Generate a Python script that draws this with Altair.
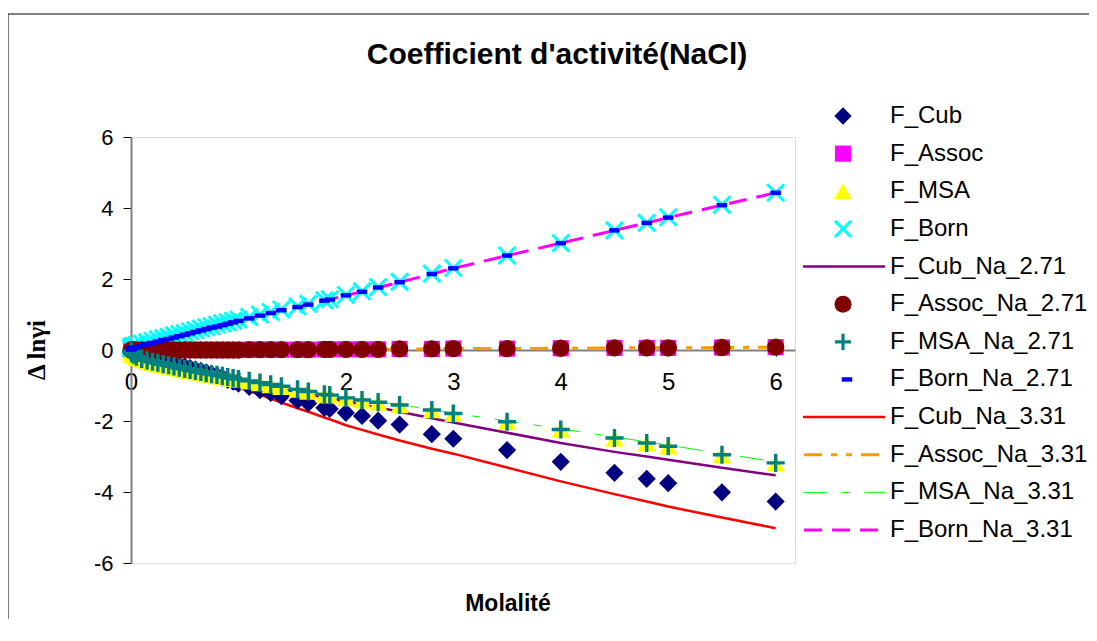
import altair as alt
import pandas as pd

# ---------------- data ----------------
mol = [0.001, 0.005, 0.01, 0.02, 0.05, 0.1, 0.15, 0.2, 0.25, 0.3, 0.35, 0.4, 0.45, 0.5,
       0.55, 0.6, 0.65, 0.7, 0.75, 0.8, 0.85, 0.9, 0.95, 1.0, 1.1, 1.2, 1.3, 1.4, 1.55,
       1.65, 1.8, 1.85, 2.0, 2.15, 2.3, 2.5, 2.8, 3.0, 3.5, 4.0, 4.5, 4.8, 5.0, 5.5, 6.0]

f_cub = [-0.03, -0.06, -0.08, -0.11, -0.17, -0.22, -0.26, -0.29, -0.32, -0.35,
         -0.38, -0.41, -0.44, -0.47, -0.51, -0.55, -0.59, -0.63, -0.68, -0.73,
         -0.78, -0.84, -0.89, -0.95, -1.04, -1.13, -1.21, -1.30, -1.42, -1.50,
         -1.63, -1.66, -1.77, -1.86, -1.99, -2.10, -2.37, -2.50, -2.82, -3.15,
         -3.46, -3.63, -3.75, -4.01, -4.27]
f_assoc = [0.0, 0.0, 0.0, 0.0, 0.0, 0.0, 0.0, 0.0, 0.0, 0.0,
           0.0, 0.0, 0.0, 0.0, 0.0, 0.0, 0.0, 0.0, 0.0, 0.0,
           0.0, 0.0, 0.0, 0.0, 0.01, 0.01, 0.01, 0.01, 0.01, 0.01,
           0.02, 0.02, 0.02, 0.02, 0.02, 0.03, 0.03, 0.04, 0.04, 0.05,
           0.06, 0.06, 0.06, 0.07, 0.08]
f_msa = [-0.04, -0.09, -0.12, -0.16, -0.23, -0.29, -0.34, -0.37, -0.41, -0.44,
         -0.47, -0.50, -0.54, -0.57, -0.60, -0.63, -0.66, -0.69, -0.71, -0.74,
         -0.76, -0.79, -0.82, -0.84, -0.89, -0.94, -0.99, -1.04, -1.12, -1.18,
         -1.26, -1.28, -1.36, -1.42, -1.48, -1.56, -1.70, -1.80, -2.03, -2.25,
         -2.49, -2.63, -2.72, -2.96, -3.19]
f_born = [0.05, 0.08, 0.09, 0.11, 0.14, 0.18, 0.22, 0.26, 0.30, 0.33,
          0.37, 0.41, 0.45, 0.48, 0.52, 0.56, 0.60, 0.64, 0.67, 0.71,
          0.75, 0.78, 0.82, 0.86, 0.93, 1.00, 1.07, 1.14, 1.23, 1.30,
          1.40, 1.43, 1.55, 1.65, 1.77, 1.92, 2.15, 2.31, 2.66, 3.01,
          3.37, 3.58, 3.74, 4.09, 4.43]
f_cub_271 = [-0.03, -0.07, -0.09, -0.13, -0.19, -0.25, -0.29, -0.33, -0.36, -0.40,
             -0.43, -0.46, -0.49, -0.52, -0.55, -0.58, -0.62, -0.65, -0.68, -0.71,
             -0.74, -0.78, -0.81, -0.84, -0.91, -0.98, -1.04, -1.10, -1.19, -1.25,
             -1.34, -1.37, -1.45, -1.54, -1.62, -1.74, -1.92, -2.04, -2.33, -2.62,
             -2.87, -3.00, -3.09, -3.32, -3.53]
f_assoc_271 = [0.0, 0.0, 0.0, 0.0, 0.0, 0.0, 0.0, 0.0, 0.0, 0.0,
               0.0, 0.0, 0.0, 0.0, 0.0, 0.0, 0.0, 0.0, 0.0, 0.0,
               0.0, 0.0, 0.0, 0.0, 0.01, 0.01, 0.01, 0.01, 0.01, 0.01,
               0.02, 0.02, 0.02, 0.02, 0.02, 0.03, 0.03, 0.04, 0.04, 0.05,
               0.06, 0.06, 0.06, 0.07, 0.08]
f_msa_271 = [-0.03, -0.07, -0.09, -0.13, -0.19, -0.25, -0.29, -0.33, -0.36, -0.40,
             -0.43, -0.46, -0.50, -0.53, -0.56, -0.59, -0.62, -0.65, -0.68, -0.70,
             -0.73, -0.76, -0.79, -0.82, -0.87, -0.92, -0.97, -1.02, -1.11, -1.17,
             -1.25, -1.27, -1.35, -1.41, -1.47, -1.55, -1.69, -1.79, -2.02, -2.24,
             -2.48, -2.62, -2.71, -2.95, -3.18]
f_born_271 = [0.01, 0.03, 0.04, 0.06, 0.08, 0.12, 0.16, 0.20, 0.24, 0.28,
              0.31, 0.35, 0.39, 0.43, 0.47, 0.51, 0.55, 0.59, 0.63, 0.66,
              0.70, 0.74, 0.78, 0.82, 0.89, 0.97, 1.04, 1.12, 1.21, 1.28,
              1.39, 1.42, 1.54, 1.64, 1.76, 1.91, 2.14, 2.30, 2.66, 3.01,
              3.37, 3.58, 3.73, 4.08, 4.43]
f_cub_331 = [-0.03, -0.07, -0.09, -0.13, -0.19, -0.25, -0.30, -0.34, -0.38, -0.42,
             -0.46, -0.50, -0.54, -0.58, -0.62, -0.67, -0.71, -0.76, -0.80, -0.85,
             -0.90, -0.95, -1.00, -1.05, -1.15, -1.26, -1.37, -1.48, -1.64, -1.74,
             -1.90, -1.95, -2.12, -2.25, -2.38, -2.55, -2.78, -2.92, -3.31, -3.70,
             -4.06, -4.27, -4.41, -4.72, -5.02]
f_assoc_331 = [0.0, 0.0, 0.0, 0.0, 0.0, 0.0, 0.0, 0.0, 0.0, 0.0,
               0.0, 0.0, 0.0, 0.0, 0.0, 0.0, 0.0, 0.0, 0.0, 0.0,
               0.0, 0.0, 0.0, 0.0, 0.01, 0.01, 0.01, 0.01, 0.01, 0.01,
               0.02, 0.02, 0.02, 0.02, 0.02, 0.03, 0.03, 0.04, 0.04, 0.05,
               0.06, 0.06, 0.06, 0.07, 0.08]
f_msa_331 = [-0.03, -0.07, -0.09, -0.13, -0.19, -0.25, -0.29, -0.33, -0.36, -0.40,
             -0.43, -0.46, -0.50, -0.53, -0.56, -0.59, -0.62, -0.65, -0.68, -0.70,
             -0.73, -0.76, -0.79, -0.82, -0.87, -0.92, -0.97, -1.02, -1.10, -1.16,
             -1.24, -1.26, -1.34, -1.40, -1.46, -1.54, -1.68, -1.78, -2.00, -2.22,
             -2.45, -2.59, -2.68, -2.92, -3.15]
f_born_331 = [0.01, 0.03, 0.04, 0.06, 0.08, 0.12, 0.16, 0.20, 0.24, 0.28,
              0.31, 0.35, 0.39, 0.43, 0.47, 0.51, 0.55, 0.59, 0.63, 0.66,
              0.70, 0.74, 0.78, 0.82, 0.89, 0.97, 1.04, 1.12, 1.21, 1.28,
              1.39, 1.42, 1.54, 1.64, 1.76, 1.91, 2.14, 2.30, 2.66, 3.01,
              3.37, 3.58, 3.73, 4.08, 4.43]

series_names = ["F_Cub", "F_Assoc", "F_MSA", "F_Born",
                "F_Cub_Na_2.71", "F_Assoc_Na_2.71", "F_MSA_Na_2.71", "F_Born_Na_2.71",
                "F_Cub_Na_3.31", "F_Assoc_Na_3.31", "F_MSA_Na_3.31", "F_Born_Na_3.31"]
x_ticks = [0, 1, 2, 3, 4, 5, 6]
y_ticks = [-6, -4, -2, 0, 2, 4, 6]

title_text = "Coefficient d'activité(NaCl)"
x_title = "Molalité"
y_title = "Δ lnγi"

df = pd.DataFrame({
    "mol": mol,
    "cub": f_cub, "assoc": f_assoc, "msa": f_msa, "born": f_born,
    "cub271": f_cub_271, "assoc271": f_assoc_271, "msa271": f_msa_271, "born271": f_born_271,
    "cub331": f_cub_331, "assoc331": f_assoc_331, "msa331": f_msa_331, "born331": f_born_331,
})
leg_df = pd.DataFrame({"name": series_names})
one = pd.DataFrame({"k": [0]})

# ---------------- styles ----------------
W, H = 664, 426
FONT = "Liberation Sans"
PLAIN = "'' + datum.value"

xscale = alt.Scale(domain=[0, 6.18], nice=False, zero=False)
yscale = alt.Scale(domain=[-6, 6], nice=False, zero=False)
xaxis = alt.Axis(values=x_ticks, offset=-213, domainColor="#808080", domainWidth=2,
                 tickColor="#000000", tickSize=6, tickWidth=1, labelFontSize=24,
                 labelFont=FONT, labelColor="black", labelPadding=14, title=None,
                 grid=False, labelFlush=False, labelOverlap=False, labelExpr=PLAIN)
yaxis = alt.Axis(values=y_ticks, domainColor="#808080", domainWidth=2,
                 tickColor="#000000", tickSize=8, tickWidth=1, labelFontSize=22,
                 labelFont=FONT, labelColor="black", labelPadding=10, title=None,
                 grid=False, labelFlush=False, labelOverlap=False, labelExpr=PLAIN)


def enc(col):
    return dict(x=alt.X("mol:Q", scale=xscale, axis=xaxis),
                y=alt.Y(f"{col}:Q", scale=yscale, axis=yaxis))


base = alt.Chart(df)

X_PATH = "M-1,-1L1,1M-1,1L1,-1"
PLUS_PATH = "M0,-1L0,1M-1,0L1,0"
DASH_PATH = "M-1,-0.42L1,-0.42L1,0.42L-1,0.42Z"

lines = [
    base.mark_line(color="#800080", strokeWidth=2.5).encode(**enc("cub271")),
    base.mark_line(color="#FF0000", strokeWidth=2.5).encode(**enc("cub331")),
    base.mark_line(color="#FF9900", strokeWidth=3, strokeDash=[18, 9, 6, 9, 6, 9]).encode(**enc("assoc331")),
    base.mark_line(color="#00FF00", strokeWidth=1, strokeDash=[24, 15, 8, 15]).encode(**enc("msa331")),
    base.mark_line(color="#FF00FF", strokeWidth=3, strokeDash=[18, 10]).encode(**enc("born331")),
]
points = [
    base.mark_point(shape="diamond", filled=True, color="#000080", size=330, opacity=1).encode(**enc("cub")),
    base.mark_point(shape="square", filled=True, color="#FF00FF", size=260, opacity=1).encode(**enc("assoc")),
    base.mark_point(shape="triangle-up", filled=True, color="#FFFF00", size=340, opacity=1).encode(**enc("msa")),
    base.mark_point(shape=X_PATH, filled=False, color="#00FFFF", size=290, strokeWidth=3, opacity=1).encode(**enc("born")),
    base.mark_point(shape="circle", filled=True, color="#800000", size=300, opacity=1).encode(**enc("assoc271")),
    base.mark_point(shape=PLUS_PATH, filled=False, color="#008080", size=330, strokeWidth=3.4, opacity=1).encode(**enc("msa271")),
    base.mark_point(shape=DASH_PATH, filled=True, color="#0000FF", size=110, opacity=1).encode(**enc("born271")),
]
main = alt.layer(*lines, *points)

# ---------------- legend (drawn with a point scale over the series names) ----------------
LY = alt.Y("name:N", scale=alt.Scale(type="point", domain=series_names, range=[-21, 393], padding=0), axis=None)
lb = alt.Chart(leg_df)
MX = 712


def only(n):
    return alt.datum.name == n


legend_layers = [
    lb.mark_point(shape="diamond", filled=True, color="#000080", size=300, opacity=1).encode(x=alt.value(MX), y=LY).transform_filter(only("F_Cub")),
    lb.mark_point(shape="square", filled=True, color="#FF00FF", size=260, opacity=1).encode(x=alt.value(MX), y=LY).transform_filter(only("F_Assoc")),
    lb.mark_point(shape="triangle-up", filled=True, color="#FFFF00", size=320, opacity=1).encode(x=alt.value(MX), y=LY).transform_filter(only("F_MSA")),
    lb.mark_point(shape=X_PATH, filled=False, color="#00FFFF", size=260, strokeWidth=3, opacity=1).encode(x=alt.value(MX), y=LY).transform_filter(only("F_Born")),
    lb.mark_rule(color="#800080", strokeWidth=2.5).encode(x=alt.value(672), x2=alt.value(754), y=LY).transform_filter(only("F_Cub_Na_2.71")),
    lb.mark_point(shape="circle", filled=True, color="#800000", size=290, opacity=1).encode(x=alt.value(MX), y=LY).transform_filter(only("F_Assoc_Na_2.71")),
    lb.mark_point(shape=PLUS_PATH, filled=False, color="#008080", size=260, strokeWidth=3.2, opacity=1).encode(x=alt.value(MX), y=LY).transform_filter(only("F_MSA_Na_2.71")),
    lb.mark_point(shape=DASH_PATH, filled=True, color="#0000FF", size=110, opacity=1).encode(x=alt.value(MX + 4), y=LY).transform_filter(only("F_Born_Na_2.71")),
    lb.mark_rule(color="#FF0000", strokeWidth=2.5).encode(x=alt.value(672), x2=alt.value(754), y=LY).transform_filter(only("F_Cub_Na_3.31")),
    lb.mark_rule(color="#FF9900", strokeWidth=3, strokeDash=[18, 9, 6, 9, 6, 9]).encode(x=alt.value(673), x2=alt.value(751), y=LY).transform_filter(only("F_Assoc_Na_3.31")),
    lb.mark_rule(color="#00FF00", strokeWidth=1, strokeDash=[24, 15, 8, 15]).encode(x=alt.value(672), x2=alt.value(754), y=LY).transform_filter(only("F_MSA_Na_3.31")),
    lb.mark_rule(color="#FF00FF", strokeWidth=3, strokeDash=[18, 10]).encode(x=alt.value(673), x2=alt.value(748), y=LY).transform_filter(only("F_Born_Na_3.31")),
    lb.mark_text(align="left", baseline="middle", font=FONT, fontSize=24, color="black").encode(x=alt.value(759), y=LY, text="name:N"),
]
legend = alt.layer(*legend_layers)

# ---------------- titles and frame ----------------
oc = alt.Chart(one)
decor = alt.layer(
    oc.mark_rule(color="black", strokeWidth=1).encode(x=alt.value(-123), x2=alt.value(1000), y=alt.value(-123)),
    oc.mark_rule(color="black", strokeWidth=1).encode(x=alt.value(-123), y=alt.value(-123), y2=alt.value(600)),
    oc.mark_text(font=FONT, fontSize=30, fontWeight="bold", color="black", align="center", baseline="middle").encode(
        x=alt.value(426), y=alt.value(-82), text=alt.value(title_text)),
    oc.mark_text(font=FONT, fontSize=23, fontWeight="bold", color="black", align="center", baseline="middle").encode(
        x=alt.value(377), y=alt.value(467), text=alt.value(x_title)),
    oc.mark_text(font="Liberation Serif", fontSize=25, fontWeight="bold", color="black", align="center", baseline="middle", angle=270).encode(
        x=alt.value(-94), y=alt.value(213), text=alt.value(y_title)),
)

chart = alt.layer(main, legend, decor).resolve_scale(y="independent", x="independent").properties(
    width=W, height=H,
    autosize=alt.AutoSizeParams(type="none"),
    padding={"left": 123, "top": 129, "right": 294, "bottom": 56},
).configure_view(stroke=None).configure(background="white")

chart.save("out.html", embed_options={"renderer": "svg", "actions": False})
